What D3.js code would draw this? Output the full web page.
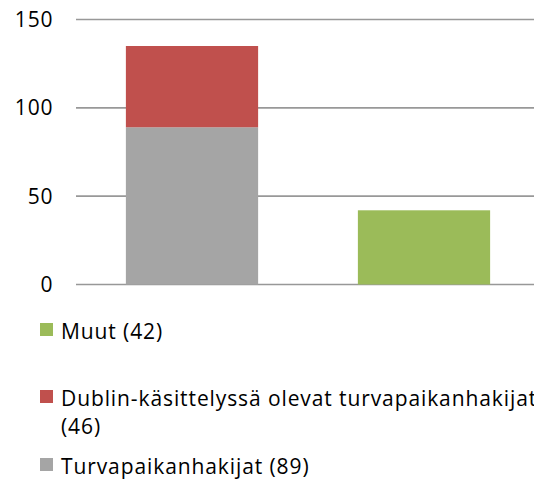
<!DOCTYPE html>
<html>
<head>
<meta charset="utf-8">
<script src="https://cdn.jsdelivr.net/npm/d3@7"></script>
<style>
  body { margin: 0; background: #fff; }
  svg text { font-family: "Open Sans", sans-serif; fill: #000; font-size: 21px; letter-spacing: 0.9px; }
</style>
</head>
<body>
<svg id="chart" width="534" height="479"></svg>
<script>
// data
var categories = ["A", "B"];
var seriesNames = ["Turvapaikanhakijat", "Dublin-käsittelyssä olevat turvapaikanhakijat", "Muut"];
var seriesColors = ["#a5a5a5", "#c0504d", "#9bbb59"];
var turvapaikka = [89, 0];
var dublin = [46, 0];
var muut = [0, 42];
var yTicks = [0, 50, 100, 150];

// legend order as drawn (top to bottom)
var legendOrder = [2, 1, 0];
var legendTotals = [89, 46, 42];

var W = 534, H = 479;
var svg = d3.select("#chart");

var x = d3.scaleBand().domain(categories).range([76, 540])
          .paddingInner(0.43).paddingOuter(0.215);
var y = d3.scaleLinear().domain([0, 150]).range([284.5, 19.5]);

// gridlines
svg.selectAll(".grid")
   .data(yTicks)
   .enter()
   .append("line")
   .attr("class", "grid")
   .attr("x1", 76).attr("x2", W)
   .attr("y1", function(d){return y(d);})
   .attr("y2", function(d){return y(d);})
   .attr("stroke", "#989898")
   .attr("stroke-width", 1.6);

// tick labels
svg.selectAll(".ytick")
   .data(yTicks)
   .enter()
   .append("text")
   .attr("class", "ytick")
   .attr("x", 53.5)
   .attr("y", function(d){return y(d) + 7.5;})
   .attr("text-anchor", "end")
   .text(function(d){return d;});

// stacked bars
var rows = categories.map(function(c, i){
    return {cat: c, s0: turvapaikka[i], s1: dublin[i], s2: muut[i]};
});
var stack = d3.stack().keys(["s0", "s1", "s2"]);
var layers = stack(rows);

svg.selectAll(".layer")
   .data(layers)
   .enter()
   .append("g")
   .attr("class", "layer")
   .attr("fill", function(d, i){return seriesColors[i];})
   .selectAll("rect")
   .data(function(d){return d.filter(function(p){return p[1] > p[0];});})
   .enter()
   .append("rect")
   .attr("x", function(d){return x(d.data.cat);})
   .attr("width", x.bandwidth())
   .attr("y", function(d){return y(d[1]);})
   .attr("height", function(d){return y(d[0]) - y(d[1]);});

// legend
var legendY = [330, 397, 465];
var legend = svg.selectAll(".legend")
   .data(legendOrder)
   .enter()
   .append("g")
   .attr("class", "legend")
   .attr("transform", function(d, i){return "translate(0," + legendY[i] + ")";});

legend.append("rect")
      .attr("x", 40).attr("y", -7)
      .attr("width", 13).attr("height", 13)
      .attr("fill", function(d){return seriesColors[d];});

legend.append("text")
      .attr("x", 61)
      .attr("y", 9)
      .each(function(d){
          var t = d3.select(this);
          if (d == 1) {
              t.append("tspan").text(seriesNames[d]);
              t.append("tspan").attr("x", 61).attr("dy", 28).text("(" + legendTotals[d] + ")");
          } else {
              t.text(seriesNames[d] + " (" + legendTotals[d] + ")");
          }
      });
</script>
</body>
</html>
